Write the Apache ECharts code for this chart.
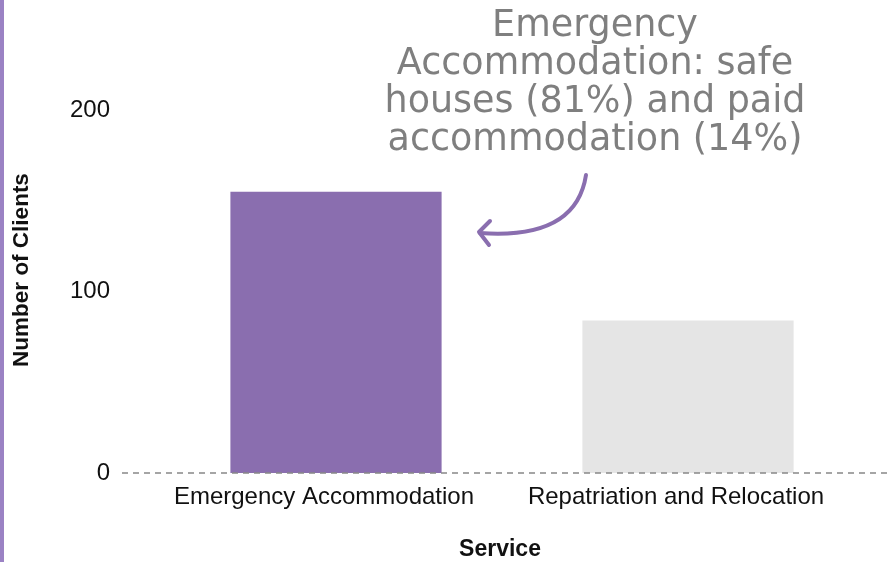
<!DOCTYPE html>
<html>
<head>
<meta charset="utf-8">
<script src="https://cdn.jsdelivr.net/npm/echarts@6/dist/echarts.min.js"></script>
<style>
html,body{margin:0;padding:0;background:#fff;}
#chart{width:890px;height:562px;}
</style>
</head>
<body>
<div id="chart"></div>
<script>
const categories = ["Emergency Accommodation", "Repatriation and Relocation"];
const clients = [155, 84];
const barColors = ["#8a6eaf", "#e5e5e5"];
const yTicks = [0, 100, 200];
const annotationLines = ["Emergency", "Accommodation: safe", "houses (81%) and paid", "accommodation (14%)"];

const chart = echarts.init(document.getElementById('chart'));
const option = {
  animation: false,
  backgroundColor: '#ffffff',
  grid: { left: 160, right: 26, top: 110, bottom: 89, containLabel: false, outerBoundsMode: 'none' },
  xAxis: {
    type: 'category',
    data: categories,
    axisLine: { show: false },
    axisTick: { show: false },
    axisLabel: { interval: 0, color: '#111', fontFamily: 'Liberation Sans, Arial', fontSize: 24, margin: 12, padding: [0, 24, 0, 0] },
    name: 'Service',
    nameLocation: 'middle',
    nameGap: 65,
    nameTextStyle: { color: '#111', fontFamily: 'Liberation Sans, Arial', fontWeight: 'bold', fontSize: 23, padding: [0, 24, 0, 0] }
  },
  yAxis: {
    type: 'value',
    min: yTicks[0],
    max: yTicks[yTicks.length - 1],
    interval: 100,
    axisLine: { show: false },
    axisTick: { show: false },
    splitLine: { show: false },
    axisLabel: { color: '#111', fontFamily: 'Liberation Sans, Arial', fontSize: 24, margin: 50 },
    name: 'Number of Clients',
    nameLocation: 'middle',
    nameGap: 127,
    nameTextStyle: { color: '#111', fontFamily: 'Liberation Sans, Arial', fontWeight: 'bold', fontSize: 22.5, padding: [0, 0, 0, 43] }
  },
  series: [{
    type: 'bar',
    barWidth: '60%',
    data: clients.map((v, i) => ({ value: v, itemStyle: { color: barColors[i] } })),
    z: 3
  }]
};
chart.setOption(option);

const y0 = chart.convertToPixel({ yAxisIndex: 0 }, 0);
chart.setOption({
  graphic: [
    { type: 'rect', shape: { x: 0, y: 0, width: 4, height: 562 }, style: { fill: '#9b82c4' }, z: 10 },
    { type: 'line', shape: { x1: 122, y1: y0, x2: 890, y2: y0 }, style: { stroke: '#888', lineWidth: 1.5, lineDash: [6, 5] }, z: 10 },
    { type: 'text', x: 595, y: 8, style: { text: annotationLines.join('\n'), fill: '#7f7f7f', font: '36.5px "DejaVu Sans", sans-serif', lineHeight: 38, align: 'center', verticalAlign: 'top' }, z: 10 },
    { type: 'bezierCurve', shape: { x1: 586, y1: 175, x2: 480, y2: 233, cpx1: 576, cpy1: 240 }, style: { stroke: '#8a6eaf', lineWidth: 4, fill: null, lineCap: 'round' }, z: 10 },
    { type: 'polyline', shape: { points: [[490, 221], [479, 232], [489, 245]] }, style: { stroke: '#8a6eaf', lineWidth: 4, fill: null, lineCap: 'round', lineJoin: 'round' }, z: 10 }
  ]
});
</script>
</body>
</html>
